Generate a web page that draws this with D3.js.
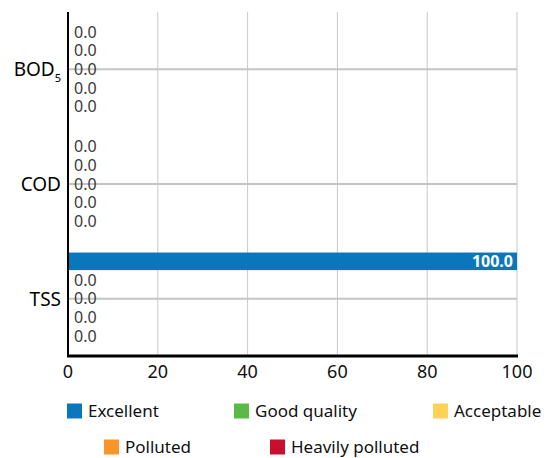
<!DOCTYPE html>
<html>
<head>
<meta charset="utf-8">
<script src="https://cdn.jsdelivr.net/npm/d3@7"></script>
<style>
  body { margin: 0; background: #fff; }
  text { font-family: "Noto Sans", "Open Sans", sans-serif; }
</style>
</head>
<body>
<script>
// horizontal grouped bar chart, water quality classes per parameter

const categories = ["BOD5", "COD", "TSS"];
const classes = ["Excellent", "Good quality", "Acceptable", "Polluted", "Heavily polluted"];
const colors = ["#0a77bd", "#5ab947", "#fdd256", "#f7952a", "#c8102e"];

const excellent = [0, 0, 100];
const goodQuality = [0, 0, 0];
const acceptable = [0, 0, 0];
const polluted = [0, 0, 0];
const heavilyPolluted = [0, 0, 0];

const xTicks = [0, 20, 40, 60, 80, 100];

const series = [excellent, goodQuality, acceptable, polluted, heavilyPolluted];

const width = 546, height = 458;
const margin = { top: 12, right: 29, bottom: 102, left: 68 };

const svg = d3.select("body").append("svg")
    .attr("width", width)
    .attr("height", height);

const x = d3.scaleLinear().domain([0, 100]).range([margin.left, width - margin.right]);
const y0 = d3.scaleBand().domain(categories).range([margin.top, height - margin.bottom]);
const y1 = d3.scaleBand().domain(classes).range([0, y0.bandwidth()]).paddingOuter(0.6).paddingInner(0.06);

// vertical grid
svg.append("g")
    .selectAll("line")
    .data(xTicks)
    .join("line")
    .attr("x1", d => x(d)).attr("x2", d => x(d))
    .attr("y1", margin.top).attr("y2", height - margin.bottom)
    .attr("stroke", "#c8c8c8")
    .attr("stroke-width", 1);

// horizontal lines at category centers
svg.append("g")
    .selectAll("line")
    .data(categories)
    .join("line")
    .attr("x1", margin.left).attr("x2", width - margin.right)
    .attr("y1", d => y0(d) + y0.bandwidth() / 2)
    .attr("y2", d => y0(d) + y0.bandwidth() / 2)
    .attr("stroke", "#c4c4c4")
    .attr("stroke-width", 2);

// bars
const groups = svg.append("g")
    .selectAll("g")
    .data(categories)
    .join("g")
    .attr("transform", d => `translate(0,${y0(d)})`);

groups.each(function (cat, ci) {
    const g = d3.select(this);
    classes.forEach((cls, si) => {
        const v = series[si][ci];
        const yy = y1(cls);
        g.append("rect")
            .attr("x", x(0))
            .attr("y", yy)
            .attr("width", x(v) - x(0))
            .attr("height", y1.bandwidth())
            .attr("fill", colors[si]);
        const big = x(v) - x(0) > 60;
        g.append("text")
            .attr("x", big ? x(v) - 4 : x(v) + 6)
            .attr("y", yy + y1.bandwidth() / 2)
            .attr("dy", "0.36em")
            .attr("text-anchor", big ? "end" : "start")
            .attr("font-size", 16)
            .attr("font-weight", big ? "bold" : "normal")
            .attr("fill", big ? "#fff" : "#3a3a3a")
            .text(v.toFixed(1));
    });
});

// axes
svg.append("line")
    .attr("x1", margin.left).attr("x2", margin.left)
    .attr("y1", margin.top).attr("y2", height - margin.bottom + 1)
    .attr("stroke", "#000").attr("stroke-width", 2);
svg.append("line")
    .attr("x1", margin.left - 1).attr("x2", width - margin.right + 1)
    .attr("y1", height - margin.bottom).attr("y2", height - margin.bottom)
    .attr("stroke", "#000").attr("stroke-width", 3);

svg.append("g")
    .selectAll("text")
    .data(xTicks)
    .join("text")
    .attr("x", d => x(d))
    .attr("y", height - margin.bottom + 22)
    .attr("text-anchor", "middle")
    .attr("font-size", 18)
    .attr("fill", "#111")
    .text(d => d);

// category labels
const catLabels = svg.append("g")
    .selectAll("text")
    .data(categories)
    .join("text")
    .attr("x", margin.left - 7)
    .attr("y", d => y0(d) + y0.bandwidth() / 2)
    .attr("dy", "0.36em")
    .attr("text-anchor", "end")
    .attr("font-size", 19)
    .attr("fill", "#000");

catLabels.each(function (d) {
    const t = d3.select(this);
    if (d === "BOD5") {
        t.append("tspan").text("BOD");
        t.append("tspan").attr("font-size", 11).attr("dy", 6).text("5");
    } else {
        t.text(d);
    }
});

// legend
const legendPos = [
    [67, 411], [234, 411], [433, 411],
    [104, 447], [270, 447]
];
const legend = svg.append("g")
    .selectAll("g")
    .data(classes)
    .join("g")
    .attr("transform", (d, i) => `translate(${legendPos[i][0]},${legendPos[i][1]})`);
legend.append("rect")
    .attr("x", 0).attr("y", -7.5)
    .attr("width", 15).attr("height", 15)
    .attr("fill", (d, i) => colors[i]);
legend.append("text")
    .attr("x", 21).attr("y", 0)
    .attr("dy", "0.36em")
    .attr("font-size", 17)
    .attr("fill", "#111")
    .text(d => d);
</script>
</body>
</html>
